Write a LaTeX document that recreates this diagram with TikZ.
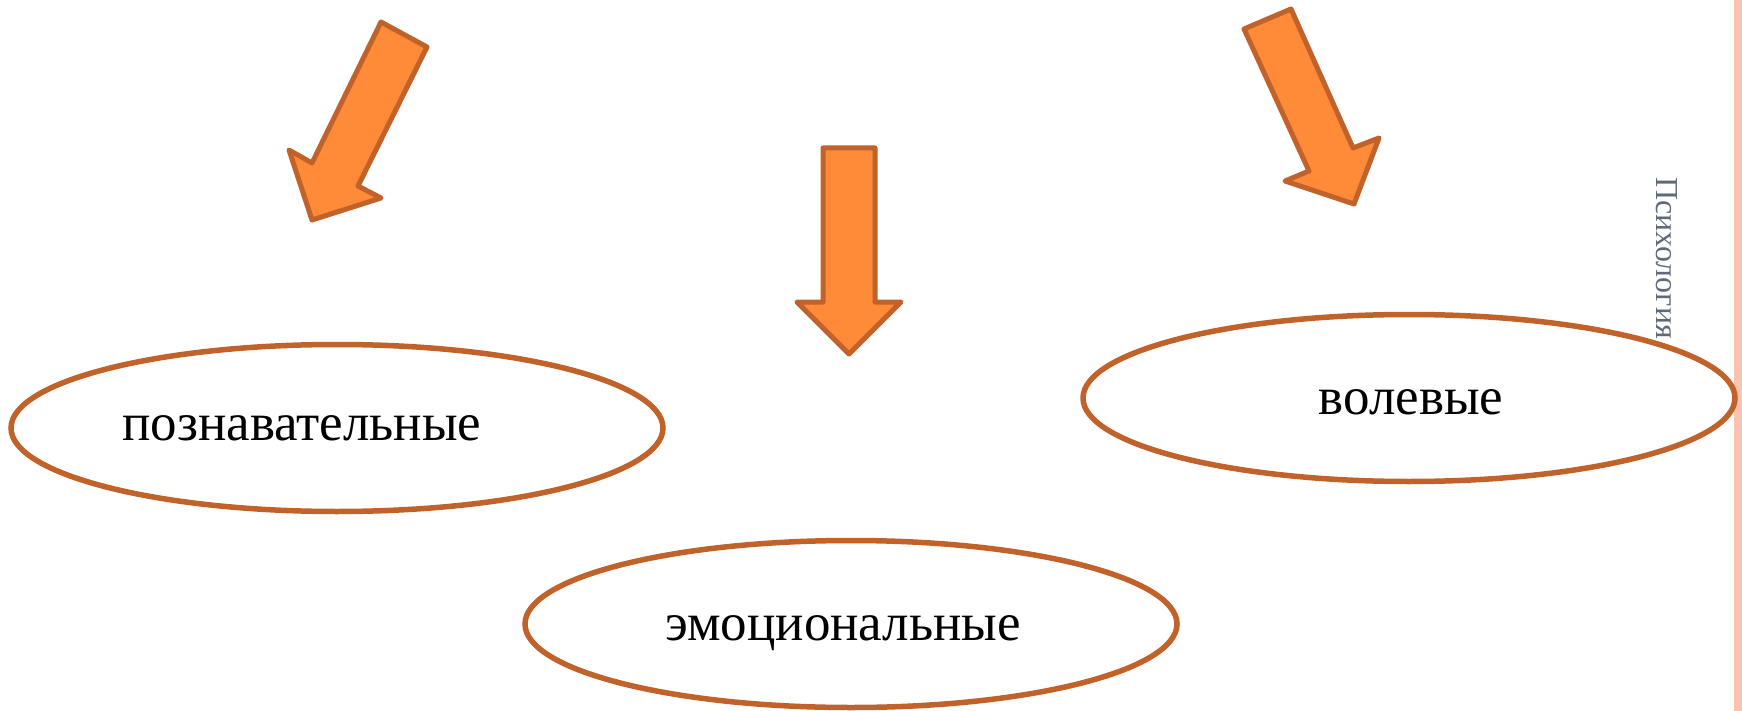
\documentclass[tikz,border=0pt]{standalone}
\usepackage{fontspec}
\setmainfont{Liberation Serif}
\usetikzlibrary{shapes.geometric}
\definecolor{edgebrown}{HTML}{C0622A}
\definecolor{arrowfill}{HTML}{FF8A38}
\definecolor{stripe}{HTML}{F9C3B0}
\definecolor{sidegray}{HTML}{5E6A78}
\tikzset{
  oval/.style={ellipse, draw=edgebrown, line width=5.5pt, minimum width=652pt, minimum height=167pt, inner sep=0pt},
  bigarrow/.style={fill=arrowfill, draw=edgebrown, line width=5pt, line join=round},
  label/.style={font=\fontsize{53}{62}\selectfont, text=black, inner sep=0pt},
}
\begin{document}
\begin{tikzpicture}[x=1pt, y=-1pt]
\useasboundingbox (0,0) rectangle (1742,711);
\fill[stripe] (1734,0) rectangle (1742,711);
% ellipses
\node[oval] (cog) at (337,428) {};
\node[oval] (emo) at (851,624) {};
\node[oval] (vol) at (1409,398) {};
\node[label] (cogt) at (302,428) {познавательные};
\node[label] (emot) at (843,633) {эмоциональные};
\node[label] (volt) at (1411,402) {волевые};
% arrows
\draw[bigarrow] (381,22) -- (427,47) -- (358,186) -- (381,198) -- (312,220) -- (289,150) -- (312,163) -- cycle;
\draw[bigarrow] (823,148) -- (875,148) -- (875,302) -- (901,302) -- (849,354) -- (797,302) -- (823,302) -- cycle;
\draw[bigarrow] (1244,29) -- (1291,9) -- (1353,148) -- (1379,138) -- (1354,204) -- (1285,181) -- (1309,171) -- cycle;
% side label
\node[rotate=-90, text=sidegray, font=\fontsize{32}{36}\selectfont, inner sep=0pt] (side) at (1667,258) {Психология};
\end{tikzpicture}
\end{document}
